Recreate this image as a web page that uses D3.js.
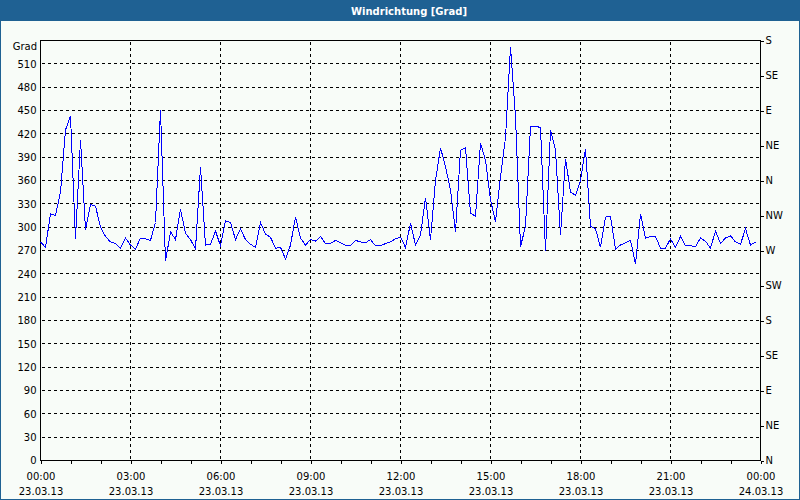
<!DOCTYPE html>
<html><head><meta charset="utf-8">
<script src="https://cdn.jsdelivr.net/npm/d3@7"></script>
<style>body{margin:0;background:#fff}svg{display:block}</style>
</head><body><svg id="c" width="800" height="500"></svg>
<script>
const chartTitle = "Windrichtung [Grad]";
const unitLabel = "Grad";
const startTime = new Date(2013, 2, 23, 0, 0);
const endTime = new Date(2013, 2, 24, 0, 0);
const stepMinutes = 10;
// wind direction in degrees, every 10 minutes from 00:00 to 23:50
const directionValues = [
  281,274,317,315,345,425,443,285,412,297,
  329,327,300,288,281,279,273,286,277,272,
  286,285,283,306,451,256,294,284,323,292,
  284,272,377,277,278,295,276,308,306,284,
  298,284,278,274,306,291,287,273,274,259,
  277,313,286,277,284,282,288,279,279,283,
  280,277,276,283,281,280,284,276,276,279,
  281,285,
  287,274,305,277,290,338,284,360,402,378,
  348,294,399,402,318,314,408,386,335,307,
  365,415,532,442,275,301,429,430,428,269,
  425,399,290,388,345,341,360,401,301,298,
  274,313,314,272,277,280,283,253,317,286,
  288,288,273,273,285,274,288,276,276,275,
  286,282,273,295,279,286,289,281,278,298,
  277,281
];
const degreeTicks = [0,30,60,90,120,150,180,210,240,270,300,330,360,390,420,450,480,510];
const compassTicks = [0,45,90,135,180,225,270,315,360,405,450,495,540];
const compassLabels = ["N","NE","E","SE","S","SW","W","NW","N","NE","E","SE","S"];

const data = directionValues.map((v, i) => ({t: new Date(startTime.getTime() + i * stepMinutes * 60000), v}));

const svg = d3.select("#c");
const FONT = "DejaVu Sans";
const blue = "#1f6193";

const x = d3.scaleTime().domain([startTime, endTime]).range([40.5, 760.5]);
const y = d3.scaleLinear().domain([0, 540]).range([460.5, 40.5]);

svg.append("rect").attr("width", 800).attr("height", 500).attr("fill", "#f8fcf8");
svg.append("rect").attr("width", 800).attr("height", 21).attr("fill", blue);
svg.append("rect").attr("x", 0.5).attr("y", 0.5).attr("width", 799).attr("height", 499)
  .attr("fill", "none").attr("stroke", blue);
svg.append("text").attr("x", 409).attr("y", 14.5).attr("text-anchor", "middle")
  .attr("font-family", FONT).attr("font-size", 10).attr("font-weight", "bold")
  .attr("fill", "#fff").text(chartTitle);

// grid
const grid = svg.append("g").attr("stroke", "#000").attr("stroke-dasharray", "3,3")
  .attr("shape-rendering", "crispEdges");
grid.selectAll("line.h").data(degreeTicks.filter(d => d > 0)).join("line")
  .attr("x1", x(startTime) + 1).attr("x2", x(endTime)).attr("y1", d => y(d)).attr("y2", d => y(d));
const gridHours = d3.timeHour.every(3).range(new Date(startTime.getTime() + 1), endTime);
grid.selectAll("line.v").data(gridHours).join("line")
  .attr("x1", d => x(d)).attr("x2", d => x(d)).attr("y1", y(540) + 1).attr("y2", y(0));

// frame
svg.append("rect").attr("x", x(startTime)).attr("y", y(540))
  .attr("width", x(endTime) - x(startTime)).attr("height", y(0) - y(540))
  .attr("fill", "none").attr("stroke", "#000").attr("shape-rendering", "crispEdges");

// line
svg.append("path").datum(data)
  .attr("fill", "none").attr("stroke", "#0000ff").attr("stroke-width", 1)
  .attr("shape-rendering", "crispEdges")
  .attr("d", d3.line().x(d => x(d.t)).y(d => y(d.v)));

// left axis
const ya = svg.append("g").attr("transform", `translate(${x(startTime)},0)`)
  .call(d3.axisLeft(y).tickValues(degreeTicks).tickSize(0).tickPadding(4).tickFormat(d3.format("d")));
ya.select(".domain").remove();
ya.selectAll("text").attr("font-family", FONT).attr("font-size", 10).attr("fill", "#000");
svg.append("text").attr("x", 37).attr("y", 50).attr("text-anchor", "end")
  .attr("font-family", FONT).attr("font-size", 10).attr("fill", "#000").text(unitLabel);

// right axis (compass)
const yr = svg.append("g").attr("transform", `translate(${x(endTime)},0)`)
  .call(d3.axisRight(y).tickValues(compassTicks).tickSize(3).tickPadding(2)
    .tickFormat((d, i) => compassLabels[i]));
yr.select(".domain").remove();
yr.selectAll("line").attr("stroke", "#000").attr("shape-rendering", "crispEdges");
yr.selectAll("text").attr("font-family", FONT).attr("font-size", 10).attr("fill", "#000");

// bottom axis: hourly minor ticks
const xm = svg.append("g").attr("transform", `translate(0,${y(0)})`)
  .call(d3.axisBottom(x).ticks(d3.timeHour.every(1)).tickSize(3).tickFormat(""));
xm.select(".domain").remove();
xm.selectAll("line").attr("stroke", "#000").attr("shape-rendering", "crispEdges");

// bottom axis labels
const fmtTime = d3.timeFormat("%H:%M");
const fmtDate = d3.timeFormat("%d.%m.%y");
const xl = svg.append("g").attr("transform", `translate(0,${y(0)})`)
  .call(d3.axisBottom(x).tickValues(d3.timeHour.every(3).range(startTime, new Date(endTime.getTime() + 1))).tickSize(0).tickFormat(""));
xl.select(".domain").remove();
xl.selectAll(".tick text").each(function(d) {
  const t = d3.select(this).attr("dy", null).attr("y", null)
    .attr("font-family", FONT).attr("font-size", 10).attr("fill", "#000");
  t.append("tspan").attr("x", 0).attr("y", 19).text(fmtTime(d));
  t.append("tspan").attr("x", 0).attr("y", 34.5).text(fmtDate(d));
});
</script></body></html>
